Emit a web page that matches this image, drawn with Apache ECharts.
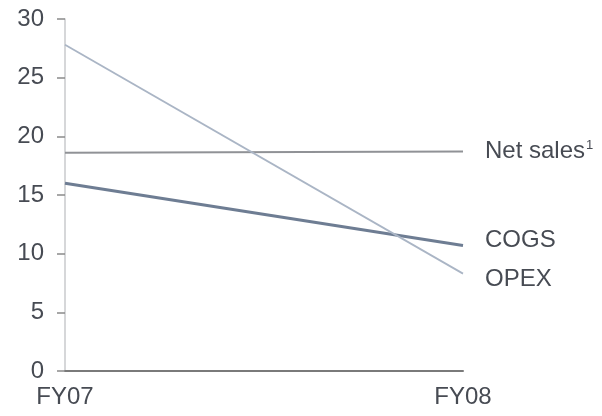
<!DOCTYPE html>
<html>
<head>
<meta charset="utf-8">
<script src="https://cdn.jsdelivr.net/npm/echarts@6/dist/echarts.min.js"></script>
<style>
  html, body { margin:0; padding:0; background:#fff; }
  #chart { width:602px; height:416px; }
</style>
</head>
<body>
<div id="chart"></div>
<script>
// data
const years = ['FY07', 'FY08']
const netSales = [18.6, 18.7]
const cogs = [16.0, 10.7]
const opex = [27.8, 8.3]

const font = 'Liberation Sans, Arial, sans-serif'
const textColor = '#474b53'

const chart = echarts.init(document.getElementById('chart'))

function endLabel (fmt, dy) {
  return {
    show: true,
    formatter: fmt,
    distance: 22,
    offset: [0, dy],
    color: textColor,
    fontFamily: font,
    fontSize: 24,
    rich: { sup: { fontSize: 13, verticalAlign: 'top', padding: [0, 0, 12, 1], color: textColor, fontFamily: font } }
  }
}

chart.setOption({
  animation: false,
  grid: { left: 65, right: 139, top: 19, bottom: 45, containLabel: false },
  xAxis: {
    type: 'category',
    data: years,
    boundaryGap: false,
    axisLine: { lineStyle: { color: '#7a7a7a', width: 2 } },
    axisTick: { show: false },
    axisLabel: { color: textColor, fontFamily: font, fontSize: 24, margin: 14 }
  },
  yAxis: {
    type: 'value',
    min: 0,
    max: 30,
    interval: 5,
    splitLine: { show: false },
    axisLine: { show: true, lineStyle: { color: '#c9cacc', width: 1.5 } },
    axisTick: { show: true, inside: false, length: 8, lineStyle: { color: '#8a8a8a', width: 1.5 } },
    axisLabel: { color: textColor, fontFamily: font, fontSize: 24, margin: 21 }
  },
  series: [
    {
      name: 'Net sales', type: 'line', data: netSales, symbol: 'none',
      lineStyle: { color: '#909296', width: 2 },
      endLabel: endLabel(() => 'Net sales{sup|1}', 0)
    },
    {
      name: 'COGS', type: 'line', data: cogs, symbol: 'none',
      lineStyle: { color: '#6e7d93', width: 3 },
      endLabel: endLabel(() => 'COGS', -5)
    },
    {
      name: 'OPEX', type: 'line', data: opex, symbol: 'none',
      lineStyle: { color: '#aab5c5', width: 1.8 },
      endLabel: endLabel(() => 'OPEX', 6)
    }
  ]
})
</script>
</body>
</html>
